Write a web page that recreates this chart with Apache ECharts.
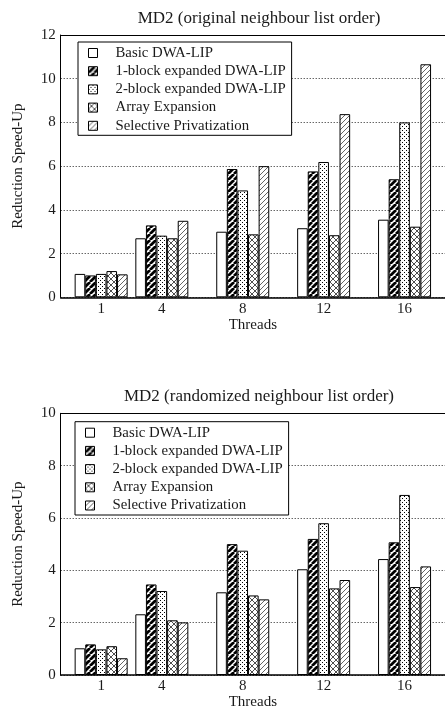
<!DOCTYPE html>
<html><head><meta charset="utf-8">
<script src="https://cdn.jsdelivr.net/npm/echarts@6/dist/echarts.min.js"></script>
<style>html,body{margin:0;padding:0;background:#fff}#c{width:445px;height:713px}</style>
</head><body><div id="c"></div>
<script>
const threads = [1, 4, 8, 12, 16];
const seriesNames = ['Basic DWA-LIP', '1-block expanded DWA-LIP', '2-block expanded DWA-LIP', 'Array Expansion', 'Selective Privatization'];
const yTicksTop = [0, 2, 4, 6, 8, 10, 12];
const yTicksBottom = [0, 2, 4, 6, 8, 10];
const titleTop = 'MD2 (original neighbour list order)';
const titleBottom = 'MD2 (randomized neighbour list order)';

// top chart (original order)
const origBasic = [1.07, 2.70, 3.00, 3.16, 3.55];
const orig1Block = [1.00, 3.29, 5.87, 5.76, 5.40];
const orig2Block = [1.07, 2.82, 4.89, 6.19, 8.00];
const origArray = [1.20, 2.70, 2.88, 2.84, 3.23];
const origSelective = [1.05, 3.50, 6.00, 8.38, 10.66];

// bottom chart (randomized order)
const randBasic = [1.02, 2.32, 3.16, 4.04, 4.43];
const rand1Block = [1.17, 3.46, 5.00, 5.20, 5.07];
const rand2Block = [0.98, 3.21, 4.75, 5.80, 6.88];
const randArray = [1.10, 2.09, 3.04, 3.31, 3.36];
const randSelective = [0.64, 2.01, 2.89, 3.63, 4.15];

function makePattern(kind) {
  const s = kind === 'thin' ? 5 : (kind === 'dots' ? 4 : 6);
  const c = document.createElement('canvas');
  c.width = s; c.height = s;
  const g = c.getContext('2d');
  g.fillStyle = '#fff'; g.fillRect(0, 0, s, s);
  function slash(w, col) {
    g.strokeStyle = col; g.lineWidth = w; g.beginPath();
    for (let k = -1; k <= 1; k++) { g.moveTo(k * s, s); g.lineTo(k * s + s, 0); }
    g.stroke();
  }
  function back(w, col) {
    g.strokeStyle = col; g.lineWidth = w; g.beginPath();
    for (let k = -1; k <= 1; k++) { g.moveTo(k * s, 0); g.lineTo(k * s + s, s); }
    g.stroke();
  }
  if (kind === 'thick') slash(2.8, '#000');
  if (kind === 'thin') slash(0.9, '#555');
  if (kind === 'cross') { slash(0.8, '#222'); back(0.8, '#222'); }
  if (kind === 'dots') { g.fillStyle = '#000'; g.fillRect(0, 0, 1, 1); g.fillRect(2, 2, 1, 1); }
  return { image: c, repeat: 'repeat' };
}
const fills = ['#ffffff', makePattern('thick'), makePattern('dots'), makePattern('cross'), makePattern('thin')];

const serif = 'Liberation Serif';
const txt = '#1a1a1a';

function mkSeries(arrs, gi) {
  return arrs.map((vals, i) => ({
    name: seriesNames[i],
    type: 'bar',
    xAxisIndex: gi * 2,
    yAxisIndex: gi,
    barWidth: 10.6,
    barGap: '0%',
    data: threads.map((t, j) => [t, vals[j]]),
    itemStyle: { color: fills[i], borderColor: '#000', borderWidth: 1 },
    emphasis: { disabled: true },
    animation: false
  }));
}

function xAxes(gi) {
  return [{
    type: 'value', gridIndex: gi, min: -1, max: 18, position: 'bottom',
    axisLine: { show: true, onZero: false, lineStyle: { color: '#000', width: 1.5 } },
    axisTick: { show: false },
    splitLine: { show: false },
    axisLabel: { customValues: threads, fontFamily: serif, fontSize: 15, color: txt, margin: 4 },
    name: 'Threads', nameLocation: 'middle', nameGap: 19,
    nameTextStyle: { fontFamily: serif, fontSize: 15, color: txt }
  }, {
    type: 'value', gridIndex: gi, min: -1, max: 18, position: 'top',
    axisLine: { show: true, onZero: false, lineStyle: { color: '#000', width: 1 } },
    axisTick: { show: false }, axisLabel: { show: false }, splitLine: { show: false }
  }];
}

function yAxis(gi, ticks) {
  return {
    type: 'value', gridIndex: gi, min: 0, max: ticks[ticks.length - 1], interval: 2,
    axisLine: { show: true, onZero: false, lineStyle: { color: '#000', width: 1 } },
    axisTick: { show: false },
    splitLine: { show: true, lineStyle: { color: '#222', width: 1, type: [1, 2] } },
    axisLabel: { fontFamily: serif, fontSize: 15, color: txt, margin: 5 },
    name: 'Reduction Speed-Up', nameLocation: 'middle', nameGap: 35, nameRotate: 90,
    nameTextStyle: { fontFamily: serif, fontSize: 15, color: txt }
  };
}

function legend(left, top) {
  return {
    data: seriesNames, orient: 'vertical', left: left, top: top,
    itemWidth: 9, itemHeight: 9, itemGap: 3.2,
    padding: [3.5, 6, 2, 10],
    borderColor: '#000', borderWidth: 1, backgroundColor: '#fff',
    icon: 'rect', selectedMode: false,
    itemStyle: { borderColor: '#000', borderWidth: 1 },
    textStyle: { fontFamily: serif, fontSize: 14.8, color: txt, lineHeight: 15, padding: [0, 0, 0, 13] }
  };
}

const chart = echarts.init(document.getElementById('c'), null, { renderer: 'canvas' });
chart.setOption({
  backgroundColor: '#fff',
  animation: false,
  title: [
    { text: titleTop, left: 254, top: 5, textAlign: 'center', textStyle: { fontFamily: serif, fontSize: 17, fontWeight: 'normal', color: txt } },
    { text: titleBottom, left: 254, top: 383, textAlign: 'center', textStyle: { fontFamily: serif, fontSize: 17, fontWeight: 'normal', color: txt } }
  ],
  legend: [legend(78, 42), legend(75, 421.7)],
  grid: [
    { left: 60.7, top: 35, width: 385.7, height: 262.3 },
    { left: 60.7, top: 413.3, width: 385.7, height: 261.7 }
  ],
  xAxis: [...xAxes(0), ...xAxes(1)],
  yAxis: [yAxis(0, yTicksTop), yAxis(1, yTicksBottom)],
  series: [
    ...mkSeries([origBasic, orig1Block, orig2Block, origArray, origSelective], 0),
    ...mkSeries([randBasic, rand1Block, rand2Block, randArray, randSelective], 1)
  ]
});
</script></body></html>
